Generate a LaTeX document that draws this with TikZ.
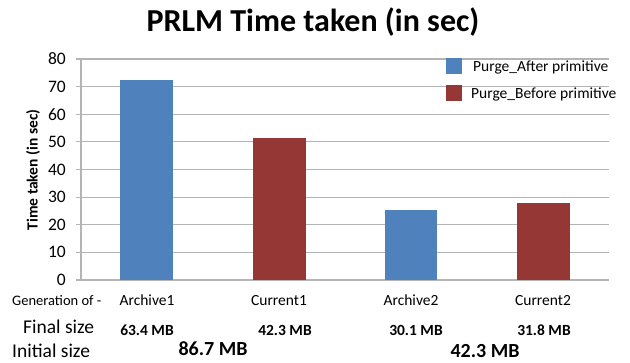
\documentclass[tikz,border=0pt]{standalone}
\usepackage{fontspec}
\setmainfont{Carlito}
\definecolor{barblue}{HTML}{4F81BD}
\definecolor{barred}{HTML}{953735}
\definecolor{gridgray}{HTML}{B4B4B4}
\tikzset{
  gridline/.style={draw=gridgray, line width=1.2pt},
  ticklbl/.style={anchor=east, inner sep=0pt, font=\fontsize{17.5}{17.5}\selectfont},
  catlbl/.style={anchor=base, inner sep=0pt, font=\fontsize{15.5}{15.5}\selectfont},
  rowlbl/.style={anchor=base west, inner sep=0pt, font=\fontsize{19.5}{19.5}\selectfont},
  sizelbl/.style={anchor=base, inner sep=0pt, font=\bfseries\fontsize{15.5}{15.5}\selectfont},
  initlbl/.style={anchor=base, inner sep=0pt, font=\bfseries\fontsize{20}{20}\selectfont},
  leglbl/.style={anchor=base west, inner sep=0pt, font=\fontsize{15.5}{15.5}\selectfont},
}
\begin{document}
\begin{tikzpicture}[x=1pt,y=-1pt]
\useasboundingbox (0,0) rectangle (630,362);
% title
\node[anchor=base, inner sep=0pt, font=\bfseries\fontsize{32}{32}\selectfont] (title) at (313,31) {PRLM Time taken (in sec)};
% gridlines and tick labels
\foreach \v in {0,10,...,80}{
  \draw[gridline] (76,{280-\v*2.7625}) -- (609,{280-\v*2.7625});
  \node[ticklbl] (t\v) at (66,{280-\v*2.7625}) {\v};
}
\draw[gridline] (81,59) -- (81,280);
% y axis label
\node[rotate=90, inner sep=0pt, font=\bfseries\fontsize{15.5}{15.5}\selectfont] (ylab) at (33,170) {Time taken (in sec)};
% bars
\fill[barblue] (120,280) rectangle (173,{280-72.3*2.7625});
\fill[barred] (252.5,280) rectangle (305.5,{280-51.5*2.7625});
\fill[barblue] (385,280) rectangle (437,{280-25.3*2.7625});
\fill[barred] (517,280) rectangle (570,{280-28*2.7625});
% legend
\fill[barblue] (446,58) rectangle (462,74);
\node[leglbl] (l1) at (473,71) {Purge\_After primitive};
\fill[barred] (446,85) rectangle (462,101);
\node[leglbl] (l2) at (471,98) {Purge\_Before primitive};
% category row
\node[rowlbl, font=\fontsize{14.5}{14.5}\selectfont] (gen) at (12,305) {Generation of -};
\node[catlbl] (c1) at (147,305) {Archive1};
\node[catlbl] (c2) at (279,305) {Current1};
\node[catlbl] (c3) at (411,305) {Archive2};
\node[catlbl] (c4) at (543,305) {Current2};
% final size row
\node[rowlbl] (fs) at (23,333) {Final size};
\node[sizelbl] (f1) at (147,335) {63.4 MB};
\node[sizelbl] (f2) at (285,335) {42.3 MB};
\node[sizelbl] (f3) at (416,335) {30.1 MB};
\node[sizelbl] (f4) at (544,335) {31.8 MB};
% initial size row
\node[rowlbl] (is) at (12,357) {Initial size};
\node[initlbl] (i1) at (213,355) {86.7 MB};
\node[initlbl] (i2) at (485,357) {42.3 MB};
\end{tikzpicture}
\end{document}
